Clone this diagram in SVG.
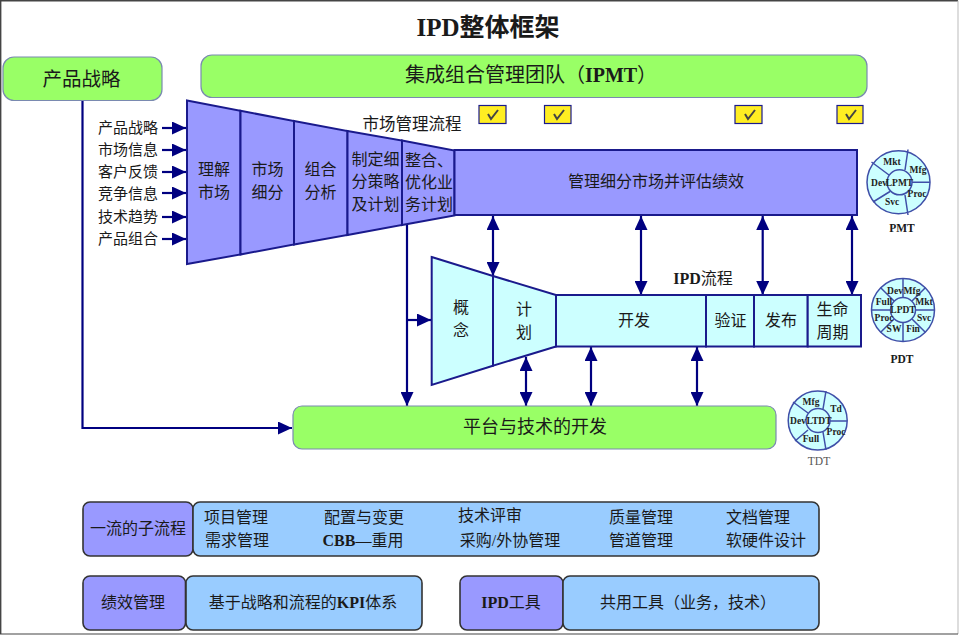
<svg xmlns="http://www.w3.org/2000/svg" width="960" height="635" viewBox="0 0 960 635">
<style>
text{font-family:"Liberation Serif","Noto Sans CJK SC",sans-serif;fill:#1a1a1a;text-anchor:middle}
.t15{font-size:15px}.t16{font-size:16px}.t165{font-size:16.500px}.t18{font-size:18px}.t19{font-size:19.500px}.t20{font-size:20px}
.b{font-weight:bold}
.sm{font-size:9.500px;font-weight:bold;fill:#222}
.cap{font-size:11.500px;font-weight:bold}
.green{fill:#99ff66;stroke:#7a8ab0;stroke-width:1.2}
.purple{fill:#9999ff;stroke:#1a1a8c;stroke-width:2}
.cyan{fill:#ccffff;stroke:#1a1a8c;stroke-width:2}
.sub{fill:#9999ff;stroke:#333;stroke-width:1.6}
.blue{fill:#99ccff;stroke:#333;stroke-width:1.6}
.chk{fill:#ffee22;stroke:#1a1a8c;stroke-width:1.2}
.tick{fill:none;stroke:#444;stroke-width:2}
.disc{fill:#ccffff;stroke:#3f4fa8;stroke-width:1.5}
.sp{stroke:#3f4fa8;stroke-width:1.5;fill:none}
.ar{fill:none;stroke:#000080;stroke-width:2.200}
</style>
<defs>
<marker id="h" markerUnits="userSpaceOnUse" markerWidth="15" markerHeight="13" refX="14" refY="6.500" orient="auto-start-reverse"><path d="M0 0L14 6.500L0 13z" fill="#000080"/></marker>
</defs>
<rect x="0" y="0" width="960" height="635" fill="#fff"/>
<path d="M0.700 634V0.700H958" fill="none" stroke="#444" stroke-width="1.400"/>
<path d="M958 0.700V634" fill="none" stroke="#bbb" stroke-width="1"/>
<path d="M0 634H958" fill="none" stroke="#444" stroke-width="1.200"/>
<text id="title" x="488" y="36" font-size="25px" class="b">IPD整体框架</text>

<g id="connectors">
<path class="ar" d="M82.500 100V428H292" marker-end="url(#h)"/>
<path class="ar" d="M162 128H186" marker-end="url(#h)"/>
<path class="ar" d="M162 150H186" marker-end="url(#h)"/>
<path class="ar" d="M162 172H186" marker-end="url(#h)"/>
<path class="ar" d="M162 193H186" marker-end="url(#h)"/>
<path class="ar" d="M162 217H186" marker-end="url(#h)"/>
<path class="ar" d="M162 239H186" marker-end="url(#h)"/>
<path class="ar" d="M407 225V406" marker-end="url(#h)"/>
<path class="ar" d="M407 320H431" marker-end="url(#h)"/>
<path class="ar" d="M493 216V276" marker-start="url(#h)" marker-end="url(#h)"/>
<path class="ar" d="M641 216V295" marker-start="url(#h)" marker-end="url(#h)"/>
<path class="ar" d="M762.700 216V295" marker-start="url(#h)" marker-end="url(#h)"/>
<path class="ar" d="M852 216V295" marker-start="url(#h)" marker-end="url(#h)"/>
<path class="ar" d="M526 357V406" marker-start="url(#h)" marker-end="url(#h)"/>
<path class="ar" d="M591 347V406" marker-start="url(#h)" marker-end="url(#h)"/>
<path class="ar" d="M697 347V406" marker-start="url(#h)" marker-end="url(#h)"/>
</g>

<g id="product-strategy"><rect class="green" x="3" y="57" width="159" height="43.500" rx="11"/><text class="t19" x="81.500" y="86">产品战略</text></g>
<g id="ipmt"><rect class="green" x="201" y="55" width="666" height="42.500" rx="11"/><text class="t20" x="531" y="82">集成组合管理团队（<tspan class="b">IPMT</tspan>）</text></g>
<g id="inputs">
<text class="t15" x="128" y="133">产品战略</text>
<text class="t15" x="128" y="155">市场信息</text>
<text class="t15" x="128" y="177">客户反馈</text>
<text class="t15" x="128" y="199">竞争信息</text>
<text class="t15" x="128" y="222">技术趋势</text>
<text class="t15" x="128" y="244">产品组合</text>
</g>
<g id="mm-understand"><path class="purple" d="M187 100.500L240.500 110.800V254.500L187 264z"/><text class="t16" x="214" y="175">理解</text><text class="t16" x="214" y="198">市场</text></g>
<g id="mm-segment"><path class="purple" d="M240.500 110.800L294 121V244.500L240.500 254.500z"/><text class="t16" x="267.500" y="175">市场</text><text class="t16" x="267.500" y="198">细分</text></g>
<g id="mm-portfolio"><path class="purple" d="M294 121L347.500 131V235L294 244.500z"/><text class="t16" x="320.500" y="175">组合</text><text class="t16" x="320.500" y="198">分析</text></g>
<g id="mm-plan"><path class="purple" d="M347.500 131L402 140.500V225L347.500 235z"/><text class="t16" x="375.500" y="165">制定细</text><text class="t16" x="375.500" y="187">分策略</text><text class="t16" x="375.500" y="210">及计划</text></g>
<g id="mm-integrate"><path class="purple" d="M402 140.500L454.500 150.500V215.500L402 225z"/><text class="t16" x="429" y="166">整合、</text><text class="t16" x="429" y="188">优化业</text><text class="t16" x="429" y="210">务计划</text></g>
<g id="mm-manage"><rect class="purple" x="454.500" y="150" width="402.500" height="65"/><text class="t16" x="656" y="187">管理细分市场并评估绩效</text></g>
<text id="mm-label" class="t165" x="412" y="130">市场管理流程</text>

<g id="checks">
<rect class="chk" x="479" y="105.500" width="27" height="18"/><path class="tick" d="M488 114l3 5 7-9"/>
<rect class="chk" x="544.500" y="105.500" width="26.500" height="18"/><path class="tick" d="M554 114l3 5 7-9"/>
<rect class="chk" x="735" y="105.500" width="27" height="18"/><path class="tick" d="M745 114l3 5 7-9"/>
<rect class="chk" x="837" y="105.500" width="26" height="18"/><path class="tick" d="M846 114l3 5 7-9"/>
</g>

<g id="ipd-concept"><path class="cyan" d="M431.700 257L493 276V365.700L431.700 385z"/><text class="t16" x="461" y="313">概</text><text class="t16" x="461" y="336">念</text></g>
<g id="ipd-plan"><path class="cyan" d="M493 276L556 295V346.500L493 365.700z"/><text class="t16" x="524" y="315">计</text><text class="t16" x="524" y="338">划</text></g>
<g id="ipd-dev"><rect class="cyan" x="556" y="295" width="150" height="51.500"/><text class="t16" x="634" y="326">开发</text></g>
<g id="ipd-verify"><rect class="cyan" x="706" y="295" width="48" height="51.500"/><text class="t16" x="730.500" y="326">验证</text></g>
<g id="ipd-release"><rect class="cyan" x="754" y="295" width="53.700" height="51.500"/><text class="t16" x="781" y="326">发布</text></g>
<g id="ipd-life"><rect class="cyan" x="807.700" y="295" width="53.300" height="51.500"/><text class="t16" x="832.500" y="315">生命</text><text class="t16" x="832.500" y="338">周期</text></g>
<text id="ipd-label" class="t16" x="703" y="284"><tspan class="b">IPD</tspan>流程</text>

<g id="platform"><rect class="green" x="293" y="406" width="483" height="43" rx="9"/><text class="t18" x="535" y="433">平台与技术的开发</text></g>

<g id="pmt">
<circle class="disc" cx="898.500" cy="182.300" r="31.500"/>
<path class="sp" d="M908 149.500L905 170M930 182.300H911.500M908 215L905 195M873 202L890 191.500M871.500 162L889 175"/>
<circle class="disc" cx="899.500" cy="182.300" r="12.500"/>
<text class="sm" x="892" y="165">Mkt</text><text class="sm" x="918" y="173">Mfg</text><text class="sm" x="879" y="185.500">Dev</text><text class="sm" x="899.500" y="185.500">LPMT</text><text class="sm" x="917" y="197">Proc</text><text class="sm" x="892" y="205">Svc</text>
<text class="cap" x="902" y="232">PMT</text>
</g>
<g id="pdt">
<circle class="disc" cx="903" cy="310" r="31.500"/>
<path class="sp" d="M903 278.500V297.500M925.300 287.700L912 301M934.500 310H915.500M925.300 332.300L912 319M903 341.500V322.500M880.700 332.300L894 319M871.500 310H890.500M880.700 287.700L894 301"/>
<circle class="disc" cx="903" cy="310" r="12.500"/>
<text class="sm" x="895" y="294">Dev</text><text class="sm" x="912" y="294">Mfg</text><text class="sm" x="884" y="305">Full</text><text class="sm" x="924" y="305">Mkt</text><text class="sm" x="884" y="321">Proc</text><text class="sm" x="924" y="321">Svc</text><text class="sm" x="894" y="332">SW</text><text class="sm" x="913" y="332">Fin</text><text class="sm" x="903" y="312.500">LPDT</text>
<text class="cap" x="902" y="363">PDT</text>
</g>
<g id="tdt">
<circle class="disc" cx="817.700" cy="420.500" r="29.500"/>
<path class="sp" d="M826 391L823 409M847 421H830M826 450L823 432M795 441L808 430M793 402L808 413"/>
<circle class="disc" cx="818" cy="420.500" r="12"/>
<text class="sm" x="811" y="405">Mfg</text><text class="sm" x="836" y="412">Td</text><text class="sm" x="798" y="424">Dev</text><text class="sm" x="819" y="424">LTDT</text><text class="sm" x="836" y="435">Proc</text><text class="sm" x="811" y="442">Full</text>
<text x="819" y="465" font-size="11.500px" style="fill:#555">TDT</text>
</g>

<g id="sub-label"><rect class="sub" x="83" y="502" width="110" height="54" rx="7"/><text class="t16" x="138" y="534">一流的子流程</text></g>
<g id="sub-items"><rect class="blue" x="193" y="502" width="626" height="54" rx="7"/>
<text class="t16" x="236" y="523">项目管理</text><text class="t16" x="364" y="523">配置与变更</text><text class="t16" x="490" y="521">技术评审</text><text class="t16" x="641" y="523">质量管理</text><text class="t16" x="758" y="523">文档管理</text>
<text class="t16" x="237" y="546">需求管理</text><text class="t16" x="363" y="546"><tspan class="b">CBB</tspan>—重用</text><text class="t16" x="510" y="546">采购/外协管理</text><text class="t16" x="641" y="546">管道管理</text><text class="t16" x="766" y="546">软硬件设计</text>
</g>
<g id="kpi-label"><rect class="sub" x="83" y="576" width="102.500" height="54" rx="7"/><text class="t16" x="133" y="608">绩效管理</text></g>
<g id="kpi-items"><rect class="blue" x="186" y="576" width="236" height="54" rx="7"/><text class="t16" x="303" y="608">基于战略和流程的<tspan class="b">KPI</tspan>体系</text></g>
<g id="tools-label"><rect class="sub" x="460" y="576" width="103" height="54" rx="7"/><text class="t16" x="511" y="608"><tspan class="b">IPD</tspan>工具</text></g>
<g id="tools-items"><rect class="blue" x="563" y="576" width="256" height="54" rx="7"/><text class="t16" x="688" y="608">共用工具（业务，技术）</text></g>
</svg>
